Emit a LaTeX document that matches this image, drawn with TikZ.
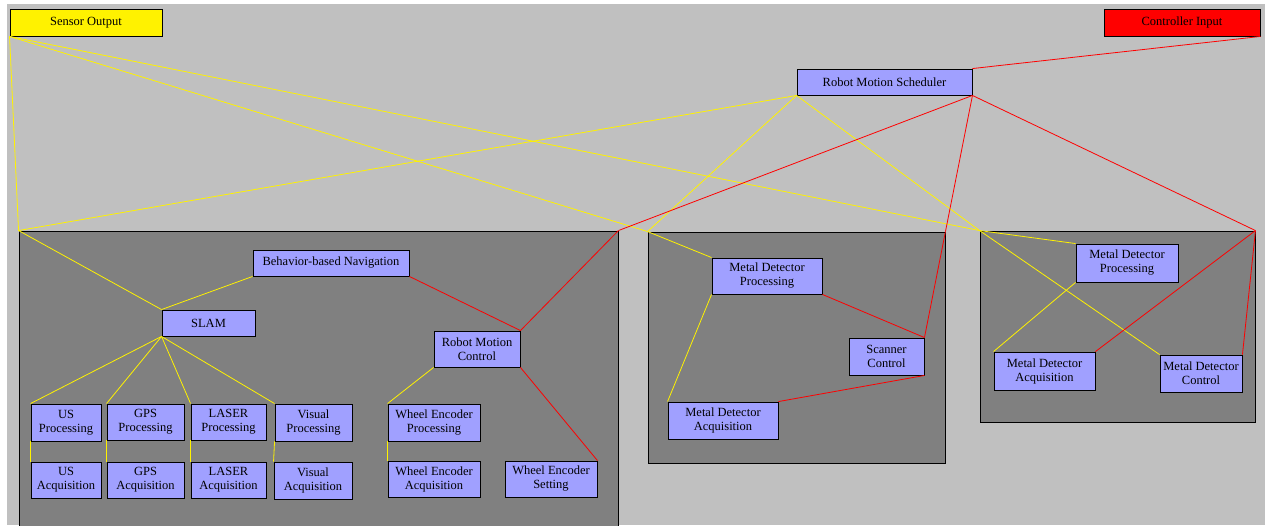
\documentclass[tikz,border=0pt]{standalone}
\usepackage{fontspec}
\setmainfont{Liberation Serif}
\usepackage{xcolor}
\usepackage{tikz}
\usetikzlibrary{positioning,calc}

\definecolor{bggray}{HTML}{C0C0C0}
\definecolor{boxgray}{HTML}{808080}
\definecolor{taskblue}{HTML}{A0A0FF}

\begin{document}
\begin{tikzpicture}[x=1pt, y=-1pt, font=\fontsize{12.5}{14}\selectfont,
    task/.style={draw, line width=0.9pt, fill=taskblue, align=center, inner sep=0pt},
    group/.style={draw, line width=0.9pt, fill=boxgray, inner sep=0pt},
    sens/.style={yellow, line width=0.8pt},
    ctrl/.style={red, line width=0.8pt}]
    \useasboundingbox (0,0) rectangle (1265,525);
    \clip (0,0) rectangle (1265,525);
    \fill[white] (0,0) rectangle (1265,525);
    \fill[bggray] (7,4) rectangle (1265,525);

    % Ports and scheduler
    \node[task, fill=yellow, minimum width=152, minimum height=27] (sensor) at (86,22.5) {Sensor Output};
    \node[task, fill=red, minimum width=156, minimum height=27] (cinput) at (1182,22.5) {Controller Input};
    \node[task, minimum width=175, minimum height=26] (sched) at (884.5,82) {Robot Motion Scheduler};

    % Groups
    \node[group, minimum width=599, minimum height=320] (nav) at (318.5,391) {};
    \node[group, minimum width=297, minimum height=231] (md1) at (796.5,347.5) {};
    \node[group, minimum width=275, minimum height=191] (md2) at (1117.5,326.5) {};

    % Navigation group
    \node[task, minimum width=156, minimum height=26] (bnav) at (331,263) {Behavior-based Navigation};
    \node[task, minimum width=93, minimum height=26] (slam) at (208.5,323) {SLAM};
    \node[task, minimum width=86, minimum height=36] (rmc) at (477,349) {Robot Motion\\Control};
    \node[task, minimum width=70, minimum height=37] (usp) at (66,422.5) {US\\Processing};
    \node[task, minimum width=77, minimum height=36] (gpsp) at (145.5,422) {GPS\\Processing};
    \node[task, minimum width=75, minimum height=36] (laserp) at (228.5,422) {LASER\\Processing};
    \node[task, minimum width=77, minimum height=37] (visp) at (313.5,422.5) {Visual\\Processing};
    \node[task, minimum width=70, minimum height=36] (usa) at (66,480) {US\\Acquisition};
    \node[task, minimum width=77, minimum height=36] (gpsa) at (145.5,480) {GPS\\Acquisition};
    \node[task, minimum width=75, minimum height=36] (lasera) at (228.5,480) {LASER\\Acquisition};
    \node[task, minimum width=78, minimum height=37] (visa) at (313,480.5) {Visual\\Acquisition};
    \node[task, minimum width=92, minimum height=37] (wep) at (434,422.5) {Wheel Encoder\\Processing};
    \node[task, minimum width=92, minimum height=36] (wea) at (434,479) {Wheel Encoder\\Acquisition};
    \node[task, minimum width=92, minimum height=36] (wes) at (551,479) {Wheel Encoder\\Setting};

    % Metal detector groups
    \node[task, minimum width=110, minimum height=36] (mdp1) at (767,276) {Metal Detector\\Processing};
    \node[task, minimum width=75, minimum height=37] (scan) at (886.5,356.5) {Scanner\\Control};
    \node[task, minimum width=110, minimum height=37] (mda1) at (723,420.5) {Metal Detector\\Acquisition};
    \node[task, minimum width=102, minimum height=38] (mdp2) at (1127,263) {Metal Detector\\Processing};
    \node[task, minimum width=101, minimum height=38] (mda2) at (1044.5,371) {Metal Detector\\Acquisition};
    \node[task, minimum width=82, minimum height=37] (mdc2) at (1201,373.5) {Metal Detector\\Control};

    % Sensor links
    \foreach \g in {nav,md1,md2} {
        \draw[sens] (sensor.south west) -- (\g.north west);
        \draw[sens] (sched.south west) -- (\g.north west);
    }
    \draw[sens] (nav.north west) -- (slam.north west);
    \draw[sens] (slam.north west) -- (bnav.south west);
    \foreach \a/\b in {usp/usa,gpsp/gpsa,laserp/lasera,visp/visa} {
        \draw[sens] (slam.south west) -- (\a.north west);
        \draw[sens] (\a.south west) -- (\b.north west);
    }
    \draw[sens] (rmc.south west) -- (wep.north west);
    \draw[sens] (wep.south west) -- (wea.north west);
    \draw[sens] (md1.north west) -- (mdp1.north west);
    \draw[sens] (mdp1.south west) -- (mda1.north west);
    \draw[sens] (md2.north west) -- (mdp2.north west);
    \draw[sens] (mdp2.south west) -- (mda2.north west);
    \draw[sens] (md2.north west) -- (mdc2.north west);

    % Controller links
    \draw[ctrl] (cinput.south east) -- (sched.north east);
    \foreach \g in {nav,md1,md2}
        \draw[ctrl] (sched.south east) -- (\g.north east);
    \draw[ctrl] (nav.north east) -- (rmc.north east);
    \draw[ctrl] (bnav.south east) -- (rmc.north east);
    \draw[ctrl] (rmc.south east) -- (wes.north east);
    \draw[ctrl] (md1.north east) -- (scan.north east);
    \draw[ctrl] (mdp1.south east) -- (scan.north east);
    \draw[ctrl] (scan.south east) -- (mda1.north east);
    \draw[ctrl] (md2.north east) -- (mda2.north east);
    \draw[ctrl] (md2.north east) -- (mdc2.north east);
\end{tikzpicture}
\end{document}
